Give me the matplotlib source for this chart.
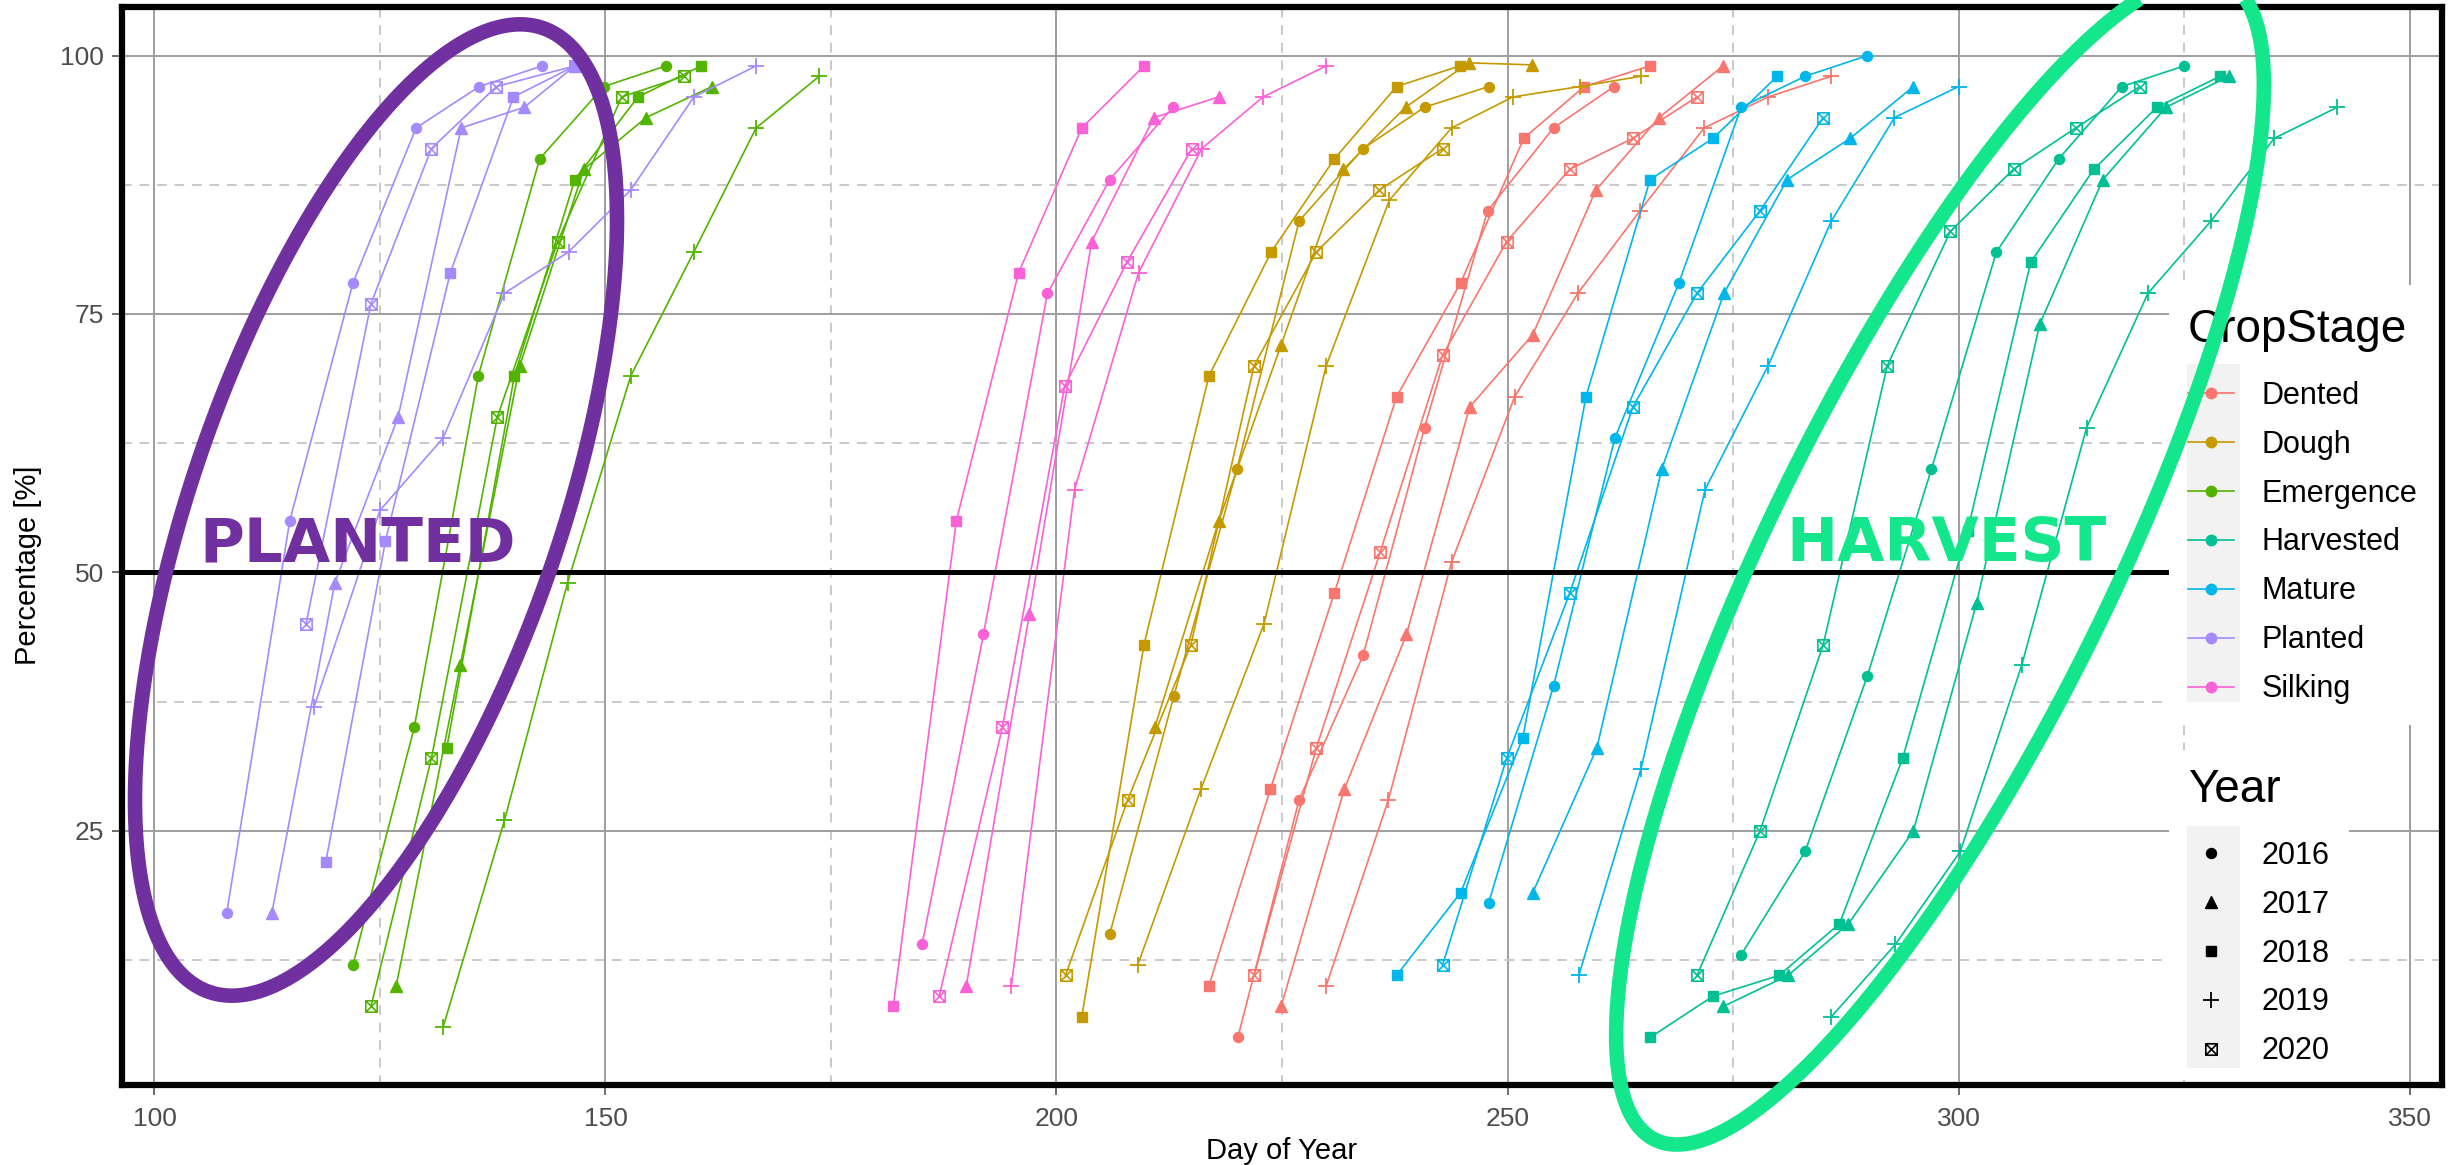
import numpy as np
import matplotlib
matplotlib.use('Agg')
import matplotlib.pyplot as plt
from matplotlib.path import Path
from matplotlib.lines import Line2D
from matplotlib.patches import Rectangle, Polygon

# ---- data: day of year / percentage per crop stage and year ----
stages = ['Dented', 'Dough', 'Emergence', 'Harvested', 'Mature', 'Planted', 'Silking']
years = [2016, 2017, 2018, 2019, 2020]
stage_colors = ['#F8766D', '#C49A00', '#53B400', '#00C094', '#00B6EB', '#A58AFF', '#FB61D7']

planted_day = {2016: [108, 115, 122, 129, 136, 143],
               2017: [113, 120, 127, 134, 141, 146.6],
               2018: [119, 125.6, 132.8, 139.8, 146.6],
               2019: [117.7, 125, 132, 138.8, 145.9, 152.8, 159.8, 166.7],
               2020: [116.8, 124, 130.7, 137.9, 146.6]}
planted_pct = {2016: [17, 55, 78, 93, 97, 99],
               2017: [17, 49, 65, 93, 95, 99],
               2018: [22, 53, 79, 96, 99],
               2019: [37, 56, 63, 77, 81, 87, 96, 99],
               2020: [45, 76, 91, 97, 99]}

emergence_day = {2016: [122, 128.8, 135.9, 142.7, 149.8, 156.7],
                 2017: [126.8, 133.9, 140.5, 147.6, 154.5, 161.8],
                 2018: [132.4, 139.9, 146.6, 153.6, 160.6],
                 2019: [132, 138.8, 145.8, 152.8, 159.8, 166.7, 173.7],
                 2020: [124, 130.7, 138, 144.7, 151.8, 158.7]}
emergence_pct = {2016: [12, 35, 69, 90, 97, 99],
                 2017: [10, 41, 70, 89, 94, 97],
                 2018: [33, 69, 88, 96, 99],
                 2019: [6, 26, 49, 69, 81, 93, 98],
                 2020: [8, 32, 65, 82, 96, 98]}

silking_day = {2016: [185.1, 191.9, 199, 205.9, 212.9],
               2017: [190, 197, 203.9, 210.8, 218],
               2018: [181.9, 188.9, 195.8, 202.8, 209.7],
               2019: [195, 202, 209.1, 216.1, 222.9, 229.9],
               2020: [187, 194, 200.9, 207.8, 215]}
silking_pct = {2016: [14, 44, 77, 88, 95],
               2017: [10, 46, 82, 94, 96],
               2018: [8, 55, 79, 93, 99],
               2019: [10, 58, 79, 91, 96, 99],
               2020: [9, 35, 68, 80, 91]}

dough_day = {2016: [205.9, 213, 220, 226.9, 234, 240.8, 247.9],
             2017: [210.9, 218, 224.9, 231.8, 238.7, 245.7, 252.7],
             2018: [202.8, 209.7, 216.9, 223.8, 230.8, 237.7, 244.7],
             2019: [209, 216, 223, 229.9, 236.9, 243.8, 250.6, 258, 264.8],
             2020: [201, 207.9, 214.9, 221.9, 228.8, 235.8, 242.8]}
dough_pct = {2016: [15, 38, 60, 84, 91, 95, 97],
             2017: [35, 55, 72, 89, 95, 99.3, 99.1],
             2018: [7, 43, 69, 81, 90, 97, 99],
             2019: [12, 29, 45, 70, 86, 93, 96, 97, 98],
             2020: [11, 28, 43, 70, 81, 87, 91]}

dented_day = {2016: [220.1, 226.9, 234, 240.8, 247.8, 255.1, 261.8],
              2017: [224.9, 231.9, 238.8, 245.8, 252.8, 259.8, 266.8, 273.9],
              2018: [216.9, 223.7, 230.8, 237.7, 244.8, 251.8, 258.5, 265.8],
              2019: [229.9, 236.8, 243.8, 250.8, 257.8, 264.7, 271.8, 278.9, 285.9],
              2020: [221.9, 228.8, 235.9, 242.8, 249.9, 256.9, 263.9, 271]}
dented_pct = {2016: [5, 28, 42, 64, 85, 93, 97],
              2017: [8, 29, 44, 66, 73, 87, 94, 99],
              2018: [10, 29, 48, 67, 78, 92, 97, 99],
              2019: [10, 28, 51, 67, 77, 85, 93, 96, 98],
              2020: [11, 33, 52, 71, 82, 89, 92, 96]}

mature_day = {2016: [247.9, 255.1, 261.9, 269, 275.9, 283, 289.9],
              2017: [252.8, 259.9, 267.1, 274, 281, 288, 295],
              2018: [237.7, 244.8, 251.7, 258.7, 265.8, 272.8, 279.9],
              2019: [257.9, 264.8, 271.9, 278.9, 285.9, 292.9, 300],
              2020: [242.8, 249.9, 256.9, 263.9, 271, 278, 285]}
mature_pct = {2016: [18, 39, 63, 78, 95, 98, 100],
              2017: [19, 33, 60, 77, 88, 92, 97],
              2018: [11, 19, 34, 67, 88, 92, 98],
              2019: [11, 31, 58, 70, 84, 94, 97],
              2020: [12, 32, 48, 66, 77, 85, 94]}

harvested_day = {2016: [275.9, 283, 289.9, 297, 304.2, 311.1, 318.1, 325],
                 2017: [273.9, 281.1, 287.8, 295, 302, 309, 316, 323, 330],
                 2018: [265.8, 272.8, 280.1, 286.8, 293.8, 301, 308, 315, 322, 329],
                 2019: [285.9, 293, 300.2, 307, 314.2, 321, 328, 335, 342],
                 2020: [271, 278, 285, 292.1, 299.1, 306.1, 313, 320.1]}
harvested_pct = {2016: [13, 23, 40, 60, 81, 90, 97, 99],
                 2017: [8, 11, 16, 25, 47, 74, 88, 95, 98],
                 2018: [5, 9, 11, 16, 32, 54, 80, 89, 95, 98],
                 2019: [7, 14, 23, 41, 64, 77, 84, 92, 95],
                 2020: [11, 25, 43, 70, 83, 89, 93, 97]}

stage_data = {'Dented': (dented_day, dented_pct),
              'Dough': (dough_day, dough_pct),
              'Emergence': (emergence_day, emergence_pct),
              'Harvested': (harvested_day, harvested_pct),
              'Mature': (mature_day, mature_pct),
              'Planted': (planted_day, planted_pct),
              'Silking': (silking_day, silking_pct)}

# ---- markers (ggplot pch 16, 17, 15, 3, 7) ----
MOVE, LINE, CLOSE = Path.MOVETO, Path.LINETO, Path.CLOSEPOLY
box_x = Path([(-1, -1), (1, -1), (1, 1), (-1, 1), (-1, -1), (-1, -1), (1, 1), (-1, 1), (1, -1)],
             [MOVE, LINE, LINE, LINE, CLOSE, MOVE, LINE, MOVE, LINE])
year_marker = {2016: dict(marker='o', ms=7.2),
               2017: dict(marker='^', ms=8.2),
               2018: dict(marker='s', ms=7),
               2019: dict(marker='+', ms=11, mew=1.3),
               2020: dict(marker=box_x, ms=8.2, mew=1.2, mfc='none')}

W, H = 2463, 1165
plt.rcParams['font.family'] = ['Liberation Sans', 'DejaVu Sans']
fig = plt.figure(figsize=(W / 100, H / 100), dpi=100)
fig.patch.set_facecolor('white')


def fx(px):
    return px / W


def fy(py):  # pixel measured from top
    return 1 - py / H


ax = fig.add_axes([fx(122), fy(1085), fx(2442) - fx(122), fy(7) - fy(1085)])

for stage, col in zip(stages, stage_colors):
    days, pcts = stage_data[stage]
    for yr in years:
        ax.plot(days[yr], pcts[yr], color=col, lw=1.2, zorder=2, **year_marker[yr])

ax.axhline(50, color='black', lw=3.6, zorder=3)

ax.set_xlim(96.4, 353.6)
ax.set_ylim(0.4, 104.7)
ax.set_xticks([100, 150, 200, 250, 300, 350])
ax.set_xticks([125, 175, 225, 275, 325], minor=True)
ax.set_yticks([25, 50, 75, 100])
ax.set_yticks([12.5, 37.5, 62.5, 87.5], minor=True)
ax.set_axisbelow(True)
ax.grid(which='major', color='#9E9E9E', lw=1.4)
ax.grid(which='minor', color='#C9C9C9', lw=1.4, ls=(0, (5, 4)))
ax.tick_params(which='major', length=7, width=1.2, color='#555555', labelsize=19,
               labelcolor='#4D4D4D')
ax.tick_params(axis='x', pad=9)
ax.tick_params(axis='y', pad=6)
ax.tick_params(which='minor', length=0)
for sp in ax.spines.values():
    sp.set_linewidth(4.5)
    sp.set_color('black')
    sp.set_zorder(6)

ax.set_xlabel('Day of Year', fontsize=21, va='center')
ax.xaxis.set_label_coords(0.5, -(1151 - 1085) / 1078)
ax.set_ylabel('Percentage [%]', fontsize=21, va='center')
ax.yaxis.set_label_coords(-(122 - 28) / 2320, 0.482)

# ---- legends ----
def box(x0, y0, x1, y1, col):
    r = Rectangle((fx(x0), fy(y1)), fx(x1) - fx(x0), fy(y0) - fy(y1), transform=fig.transFigure,
                  facecolor=col, edgecolor='none', zorder=4)
    ax.add_patch(r)


box(2169, 285, 2445, 725, 'white')
box(2169, 750, 2349, 1080, 'white')
box(2187, 364, 2240, 702, '#F2F2F2')
box(2187, 826, 2240, 1068, '#F2F2F2')

leg_kw = dict(loc='upper left', bbox_transform=fig.transFigure, frameon=False, fontsize=22,
              title_fontsize=33, borderpad=0, borderaxespad=0, handlelength=1.5,
              handletextpad=0.9, labelspacing=0.62, alignment='left')

stage_handles = [Line2D([], [], color=c, lw=1.2, marker='o', ms=7.5) for c in stage_colors]
leg1 = ax.legend(stage_handles, stages, title='CropStage', bbox_to_anchor=(fx(2188), fy(308)),
                 **leg_kw)
leg1._legend_box.sep += 7
leg1.set_zorder(5)
ax.add_artist(leg1)

year_handles = [Line2D([], [], color='black', ls='none', **year_marker[y]) for y in years]
leg2 = ax.legend(year_handles, [str(y) for y in years], title='Year',
                 bbox_to_anchor=(fx(2188), fy(768)), **leg_kw)
leg2._legend_box.sep += 7
leg2.set_zorder(5)

# ---- hand drawn annotations ----
def ellipse(cx, cy, a, b, ang_deg, col):
    t = np.linspace(0, 2 * np.pi, 500)
    th = np.radians(ang_deg)
    xs = cx + a * np.cos(th) * np.cos(t) - b * np.sin(th) * np.sin(t)
    ys = cy + a * np.sin(th) * np.cos(t) + b * np.cos(th) * np.sin(t)
    pts = np.column_stack([fx(xs), fy(ys)])
    fig.add_artist(Polygon(pts, closed=True, fill=False, edgecolor=col, lw=10.5,
                           transform=fig.transFigure, zorder=10))


purple = '#7030A0'
green = '#14E68C'
ellipse(376, 510, 510, 184, -70.9, purple)
ellipse(1940, 560, 646, 171, -63.8, green)
fig.text(fx(358), fy(545), 'PLANTED', color=purple, fontsize=44, fontweight='bold',
         family='DejaVu Sans', ha='center', va='center', zorder=11)
fig.text(fx(1946), fy(545), 'HARVEST', color=green, fontsize=44, fontweight='bold',
         family='DejaVu Sans', ha='center', va='center', zorder=11)

fig.savefig('out.png', dpi=100)
